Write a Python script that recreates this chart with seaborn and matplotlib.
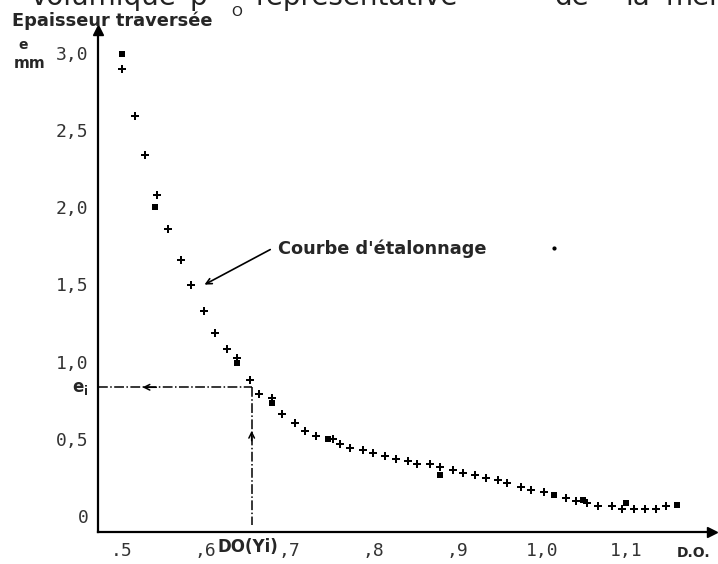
import matplotlib
matplotlib.use("Agg")
from matplotlib import pyplot as plt
import seaborn as sns

# calibration points: crosses (curve) and squares (measurements)
do_plus = [0.501, 0.516, 0.528, 0.543, 0.556, 0.571, 0.583, 0.598, 0.611, 0.626,
           0.638, 0.653, 0.664, 0.679, 0.691, 0.706, 0.718, 0.732, 0.752, 0.760,
           0.772, 0.787, 0.799, 0.813, 0.826, 0.841, 0.852, 0.867, 0.879, 0.894,
           0.906, 0.921, 0.933, 0.948, 0.959, 0.975, 0.987, 1.002, 1.029, 1.041,
           1.054, 1.067, 1.083, 1.095, 1.109, 1.122, 1.136, 1.148]
e_plus = [2.896, 2.590, 2.336, 2.079, 1.859, 1.658, 1.496, 1.330, 1.185, 1.080,
          1.025, 0.881, 0.789, 0.767, 0.659, 0.605, 0.549, 0.519, 0.500, 0.464,
          0.444, 0.431, 0.411, 0.389, 0.370, 0.355, 0.338, 0.340, 0.320, 0.301,
          0.279, 0.265, 0.249, 0.234, 0.213, 0.191, 0.169, 0.154, 0.119, 0.100,
          0.087, 0.066, 0.066, 0.046, 0.044, 0.044, 0.044, 0.066]
do_square = [0.501, 0.540, 0.638, 0.679, 0.746, 0.879, 1.014, 1.049, 1.100, 1.160]
e_square = [2.989, 2.003, 0.990, 0.730, 0.500, 0.264, 0.137, 0.104, 0.087, 0.072]

y_ticks = [0, 0.5, 1.0, 1.5, 2.0, 2.5, 3.0]
y_labels = ["0", "0,5", "1,0", "1,5", "2,0", "2,5", "3,0"]
x_ticks = [0.5, 0.6, 0.7, 0.8, 0.9, 1.0, 1.1]
x_labels = [".5", ",6", ",7", ",8", ",9", "1,0", "1,1"]

do_i, e_i = 0.655, 0.834

W, H = 718, 564


def fx(px):
    return px / W


def fy(py):
    return 1 - py / H


sns.set_style("white")
plt.rcParams['font.family'] = ['DejaVu Sans']
fig = plt.figure(figsize=(7.18, 5.64), dpi=100)
ax = fig.add_axes([fx(97.7), fy(532), fx(711.7) - fx(97.7), fy(30) - fy(532)])

sns.scatterplot(x=do_plus, y=e_plus, marker='P', s=38, color='black',
                linewidth=0, ax=ax)
sns.scatterplot(x=do_square, y=e_square, marker='s', s=24, color='black',
                linewidth=0, ax=ax)
ax.plot([1.014], [1.738], marker='o', ms=2, color='black')

ax.set_xlim(0.472, 1.2018)
ax.set_ylim(-0.103, 3.147)
ax.set_xticks(x_ticks, x_labels)
ax.set_yticks(y_ticks, y_labels)
for side in ['top', 'right']:
    ax.spines[side].set_visible(False)
for side in ['left', 'bottom']:
    ax.spines[side].set_linewidth(1.6)
    ax.spines[side].set_color('black')
ax.tick_params(direction='inout', length=7, width=1.2, colors='black',
               labelsize=13, labelcolor='#333333')
ax.tick_params(axis='x', pad=4)
ax.tick_params(axis='y', pad=3)
for lab in ax.get_xticklabels() + ax.get_yticklabels():
    lab.set_family('DejaVu Sans Mono')

# axis arrows
ax.plot(1, 0, '>', color='black', ms=7, transform=ax.transAxes, clip_on=False)
ax.plot(0, 1, '^', color='black', ms=7, transform=ax.transAxes, clip_on=False)

# reading lines
ax.plot([0.472, do_i], [e_i, e_i], ls='-.', color='black', lw=1.1)
ax.plot([do_i, do_i], [e_i, -0.06], ls='-.', color='black', lw=1.1)
ax.annotate('', xy=(0.522, e_i), xytext=(0.545, e_i),
            arrowprops=dict(arrowstyle='->', color='black', lw=1.1))
ax.annotate('', xy=(do_i, 0.57), xytext=(do_i, 0.47),
            arrowprops=dict(arrowstyle='->', color='black', lw=1.1))

# label with arrow
ax.annotate('', xy=(0.596, 1.49), xytext=(0.680, 1.734),
            arrowprops=dict(arrowstyle='->', color='black', lw=1.2))
fig.text(fx(278), fy(249), "Courbe d'étalonnage", fontsize=12.8,
         fontweight='bold', va='center', ha='left')

fig.text(fx(12), fy(21), "Epaisseur traversée", fontsize=12.8,
         fontweight='bold', va='center', ha='left')
fig.text(fx(18), fy(45), "e", fontsize=10, fontweight='bold',
         va='center', ha='left')
fig.text(fx(14), fy(64), "mm", fontsize=11, fontweight='bold',
         va='center', ha='left')
fig.text(fx(72), fy(388), r"$\mathbf{e_i}$", fontsize=12,
         va='center', ha='left')
fig.text(fx(248), fy(547), "DO(Yi)", fontsize=12, fontweight='bold',
         va='center', ha='center')
fig.text(fx(677), fy(553), "D.O.", fontsize=10, fontweight='bold',
         va='center', ha='left')

# clipped line of the page text above the figure
for word, px in [("volumique", 30), ("ρ", 190), ("représentative", 255),
                 ("de", 555), ("la", 625), ("même", 665)]:
    fig.text(fx(px), fy(5), word, fontsize=20, va='baseline', ha='left',
             color='#222222')
fig.text(fx(231), fy(12), "O", fontsize=10, va='center', ha='left')

fig.savefig("out.png", dpi=100)
